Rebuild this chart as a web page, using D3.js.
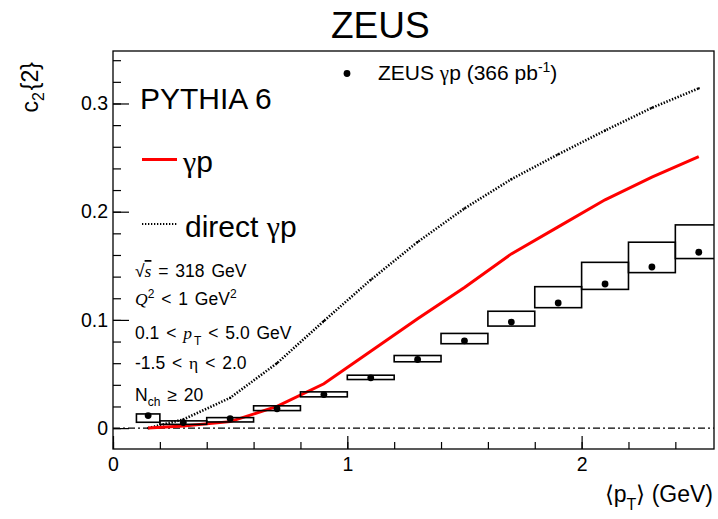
<!DOCTYPE html>
<html>
<head>
<meta charset="utf-8">
<script src="https://cdn.jsdelivr.net/npm/d3@7"></script>
<style>
  body { margin: 0; background: #fff; }
  svg { display: block; font-family: "Liberation Sans", Arial, sans-serif; }
  .greek { font-family: "Liberation Serif", "Times New Roman", serif; }
</style>
</head>
<body>
<script>
// ZEUS c2{2} vs <pT>, bins and values
const binLow  = [0.1, 0.2, 0.4, 0.6, 0.8, 1.0, 1.2, 1.4, 1.6, 1.8, 2.0, 2.2, 2.4];
const binHigh = [0.2, 0.4, 0.6, 0.8, 1.0, 1.2, 1.4, 1.6, 1.8, 2.0, 2.2, 2.4, 2.6];
const ptMean  = [0.15, 0.3, 0.5, 0.7, 0.9, 1.1, 1.3, 1.5, 1.7, 1.9, 2.1, 2.3, 2.5];
const zeusC2  = [0.0116, 0.0051, 0.0088, 0.0178, 0.031, 0.0465, 0.0634, 0.0807, 0.098, 0.1156, 0.1332, 0.1489, 0.1625];
const sysLow  = [0.0054, 0.0035, 0.0057, 0.0162, 0.0289, 0.0449, 0.0613, 0.078, 0.0943, 0.1113, 0.1282, 0.1437, 0.1567];
const sysHigh = [0.0131, 0.0067, 0.0097, 0.0206, 0.0335, 0.0489, 0.0671, 0.0875, 0.108, 0.1307, 0.1532, 0.1718, 0.1878];
const pythiaGp     = [0.0, 0.002, 0.006, 0.020, 0.041, 0.071, 0.101, 0.130, 0.161, 0.186, 0.211, 0.232, 0.251];
const pythiaDirect = [0.0, 0.008, 0.028, 0.060, 0.099, 0.137, 0.172, 0.203, 0.230, 0.253, 0.275, 0.296, 0.314];

const xMajor = [0, 1, 2];
const xMinor = [0, 0.2, 0.4, 0.6, 0.8, 1, 1.2, 1.4, 1.6, 1.8, 2, 2.2, 2.4];
const yMajor = [0, 0.1, 0.2, 0.3];
const yMinor = [0, 0.02, 0.04, 0.06, 0.08, 0.1, 0.12, 0.14, 0.16, 0.18, 0.2, 0.22, 0.24, 0.26, 0.28, 0.3, 0.32, 0.34];

const W = 718, H = 519;
const mLeft = 113, mRight = 714, mTop = 51, mBottom = 449;

const svg = d3.select('body').append('svg')
  .attr('width', W)
  .attr('height', H);

const x = d3.scaleLinear().domain([0, 2.565]).range([mLeft, mRight]);
const y = d3.scaleLinear().domain([-0.0193, 0.3485]).range([mBottom, mTop]);

svg.append('defs').append('clipPath')
  .attr('id', 'plot-clip')
  .append('rect')
  .attr('x', mLeft).attr('y', mTop)
  .attr('width', mRight - mLeft).attr('height', mBottom - mTop);

const plot = svg.append('g').attr('clip-path', 'url(#plot-clip)');

// zero line
plot.append('line')
  .attr('x1', x(0)).attr('x2', x(2.565))
  .attr('y1', y(0)).attr('y2', y(0))
  .attr('stroke', '#000')
  .attr('stroke-width', 1.3)
  .attr('stroke-dasharray', '7,3,2,3');

const line = d3.line()
  .x((d, i) => x(ptMean[i]))
  .y(d => y(d));

// PYTHIA direct gamma-p (dotted)
plot.append('path')
  .datum(pythiaDirect)
  .attr('fill', 'none')
  .attr('stroke', '#000')
  .attr('stroke-width', 2.6)
  .attr('stroke-dasharray', '1.4,1.6')
  .attr('d', line);

plot.selectAll('rect.dmark')
  .data(pythiaDirect)
  .enter()
  .append('rect')
  .attr('class', 'dmark')
  .attr('x', (d, i) => x(ptMean[i]) - 1)
  .attr('y', d => y(d) - 1)
  .attr('width', 2).attr('height', 2)
  .attr('fill', '#000');

// PYTHIA gamma-p (red)
plot.append('path')
  .datum(pythiaGp)
  .attr('fill', 'none')
  .attr('stroke', '#ff0000')
  .attr('stroke-width', 3)
  .attr('d', line);

// systematic boxes
plot.selectAll('rect.sys')
  .data(zeusC2)
  .enter()
  .append('rect')
  .attr('class', 'sys')
  .attr('x', (d, i) => x(binLow[i]))
  .attr('width', (d, i) => x(binHigh[i]) - x(binLow[i]))
  .attr('y', (d, i) => y(sysHigh[i]))
  .attr('height', (d, i) => y(sysLow[i]) - y(sysHigh[i]))
  .attr('fill', 'none')
  .attr('stroke', '#000')
  .attr('stroke-width', 1.6);

// data points
plot.selectAll('circle.pt')
  .data(zeusC2)
  .enter()
  .append('circle')
  .attr('class', 'pt')
  .attr('cx', (d, i) => x(ptMean[i]))
  .attr('cy', d => y(d))
  .attr('r', 3.4)
  .attr('fill', '#000');

// axes
svg.append('g')
  .attr('transform', `translate(${mLeft},0)`)
  .call(d3.axisLeft(y).tickValues(yMajor).tickSize(-16).tickSizeOuter(0).tickPadding(5)
    .tickFormat(d => d === 0 ? '0' : d3.format('.1f')(d)));
svg.append('g')
  .attr('transform', `translate(${mLeft},0)`)
  .call(d3.axisLeft(y).tickValues(yMinor).tickSize(-8).tickSizeOuter(0).tickFormat(''));

svg.append('g')
  .attr('transform', `translate(0,${mBottom})`)
  .call(d3.axisBottom(x).tickValues(xMajor).tickSize(-13).tickSizeOuter(0).tickPadding(8)
    .tickFormat(d3.format('d')));
svg.append('g')
  .attr('transform', `translate(0,${mBottom})`)
  .call(d3.axisBottom(x).tickValues(xMinor).tickSize(-7).tickSizeOuter(0).tickFormat(''));

svg.selectAll('.tick text')
  .style('font-size', '19.5px')
  .style('font-family', '"Liberation Sans", Arial, sans-serif')
  .attr('fill', '#000');
svg.selectAll('.tick line').attr('stroke', '#000').attr('stroke-width', 1.2);
svg.selectAll('.domain').attr('stroke', 'none');

// frame
svg.append('rect')
  .attr('x', mLeft).attr('y', mTop)
  .attr('width', mRight - mLeft).attr('height', mBottom - mTop)
  .attr('fill', 'none')
  .attr('stroke', '#000')
  .attr('stroke-width', 1.3);

// title
svg.append('text')
  .attr('x', 331).attr('y', 38)
  .style('font-size', '37px')
  .text('ZEUS');

// y label
const ylab = svg.append('text')
  .attr('transform', 'translate(38,62) rotate(-90)')
  .attr('text-anchor', 'end')
  .style('font-size', '23px');
ylab.append('tspan').text('c');
ylab.append('tspan').attr('dy', 6).style('font-size', '16px').text('2');
ylab.append('tspan').attr('dy', -6).attr('dx', 2).text('{2}');

// x label
const xlab = svg.append('text')
  .attr('x', 713).attr('y', 502)
  .attr('text-anchor', 'end')
  .style('font-size', '23px');
xlab.append('tspan').text('\u27E8p');
xlab.append('tspan').attr('dy', 8).style('font-size', '16px').text('T');
xlab.append('tspan').attr('dy', -8).text('\u27E9 (GeV)');

// ZEUS legend entry
svg.append('circle')
  .attr('cx', 347).attr('cy', 73.5).attr('r', 3.4).attr('fill', '#000');
const zl = svg.append('text')
  .attr('x', 378).attr('y', 80)
  .style('font-size', '21px');
zl.append('tspan').text('ZEUS ');
zl.append('tspan').attr('class', 'greek').text('\u03B3');
zl.append('tspan').text('p (366 pb');
zl.append('tspan').attr('dy', -8).style('font-size', '14px').text('-1');
zl.append('tspan').attr('dy', 8).text(')');

// PYTHIA legend
svg.append('text')
  .attr('x', 140).attr('y', 109)
  .style('font-size', '30px')
  .text('PYTHIA 6');

svg.append('line')
  .attr('x1', 142).attr('x2', 177).attr('y1', 159.5).attr('y2', 159.5)
  .attr('stroke', '#ff0000').attr('stroke-width', 3);
const l1 = svg.append('text')
  .attr('x', 183).attr('y', 172)
  .style('font-size', '30px');
l1.append('tspan').attr('class', 'greek').text('\u03B3');
l1.append('tspan').text('p');

svg.append('line')
  .attr('x1', 142).attr('x2', 177).attr('y1', 224).attr('y2', 224)
  .attr('stroke', '#000').attr('stroke-width', 2)
  .attr('stroke-dasharray', '1.3,1.7');
const l2 = svg.append('text')
  .attr('x', 185).attr('y', 237)
  .style('font-size', '30px');
l2.append('tspan').text('direct ');
l2.append('tspan').attr('class', 'greek').text('\u03B3');
l2.append('tspan').text('p');

// selection annotations
const ann = svg.append('g')
  .style('font-size', '17.5px')
  .style('word-spacing', '2px');

const a1 = ann.append('text').attr('x', 135).attr('y', 277);
a1.append('tspan').text('\u221A');
a1.append('tspan').style('font-family', '"Liberation Serif", serif').style('font-style', 'italic')
  .style('text-decoration', 'overline').text('s');
a1.append('tspan').text(' = 318 GeV');

const a2 = ann.append('text').attr('x', 135).attr('y', 305);
a2.append('tspan').style('font-family', '"Liberation Serif", serif').style('font-style', 'italic').text('Q');
a2.append('tspan').attr('dy', -7).style('font-size', '12px').text('2');
a2.append('tspan').attr('dy', 7).text(' < 1 GeV');
a2.append('tspan').attr('dy', -7).style('font-size', '12px').text('2');

const a3 = ann.append('text').attr('x', 135).attr('y', 339);
a3.append('tspan').text('0.1 < ');
a3.append('tspan').style('font-family', '"Liberation Serif", serif').style('font-style', 'italic').text('p');
a3.append('tspan').attr('dy', 6).attr('dx', 2).style('font-size', '12px').text('T');
a3.append('tspan').attr('dy', -6).text(' < 5.0 GeV');

const a4 = ann.append('text').attr('x', 135).attr('y', 369);
a4.append('tspan').text('-1.5 < ');
a4.append('tspan').attr('class', 'greek').text('\u03B7');
a4.append('tspan').text(' < 2.0');

const a5 = ann.append('text').attr('x', 135).attr('y', 401);
a5.append('tspan').text('N');
a5.append('tspan').attr('dy', 5).style('font-size', '12px').text('ch');
a5.append('tspan').attr('dy', -5).text(' \u2265 20');
</script>
</body>
</html>
